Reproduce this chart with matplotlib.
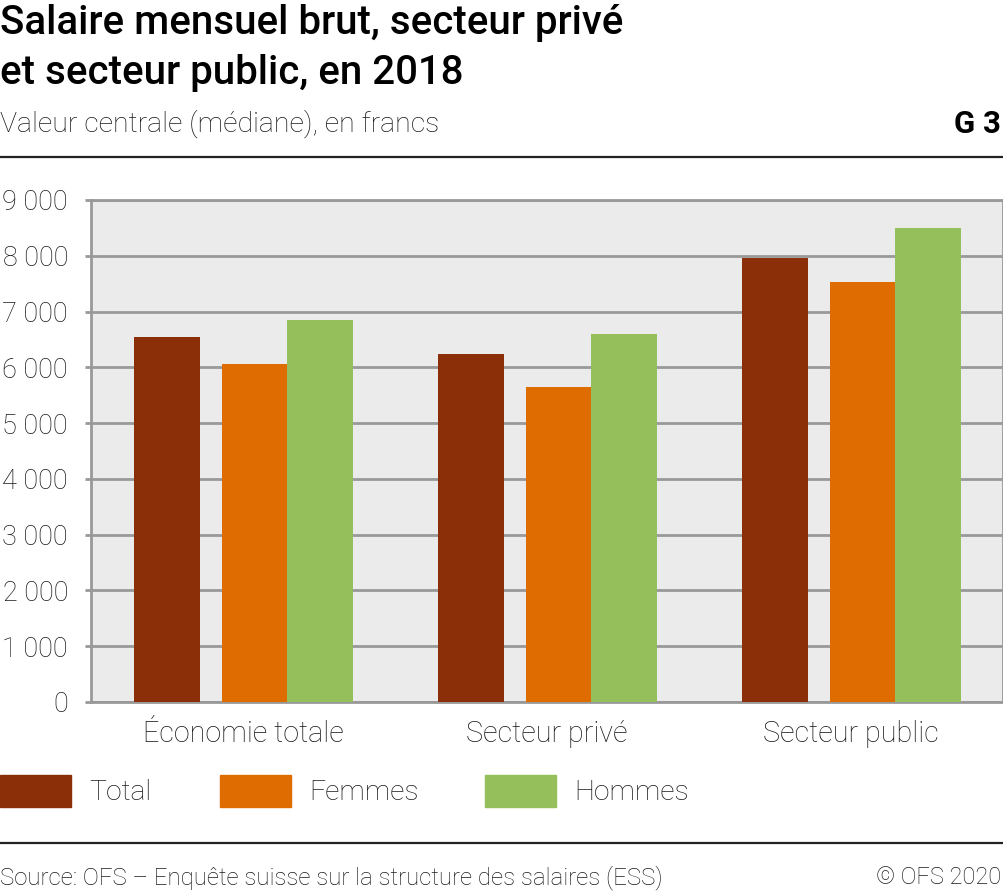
import matplotlib
matplotlib.use("Agg")
import matplotlib.pyplot as plt
from matplotlib.patches import Rectangle
from matplotlib.lines import Line2D
import numpy as np

categories = ["Économie totale", "Secteur privé", "Secteur public"]
series_names = ["Total", "Femmes", "Hommes"]
total = [6538, 6243, 7965]
femmes = [6067, 5648, 7535]
hommes = [6857, 6597, 8503]
yticks = [0, 1000, 2000, 3000, 4000, 5000, 6000, 7000, 8000, 9000]
ytick_labels = ["0", "1 000", "2 000", "3 000", "4 000", "5 000", "6 000", "7 000", "8 000", "9 000"]

colors = ["#8a2f07", "#de6c00", "#95bf5a"]
W, H = 1004, 891
fig = plt.figure(figsize=(W / 100, H / 100), dpi=100)

def fx(px):
    return px / W

def fy(py):
    return 1 - py / H

TXT = "#1a1a1a"
ax = fig.add_axes([fx(91), fy(702), fx(1003) - fx(91), fy(200) - fy(702)])
ax.set_facecolor("#ebebeb")
x = np.arange(len(categories))
offsets = [-0.357, -0.069, 0.146]
width = 0.215
for vals, off, col in zip([total, femmes, hommes], offsets, colors):
    ax.bar(x + off, vals, width=width, align="edge", color=col, zorder=3, linewidth=0)

ax.set_xlim(-0.5, 2.5)
ax.set_ylim(0, 9000)
ax.set_yticks(yticks)
ax.set_yticklabels(ytick_labels, fontfamily="Roboto", fontweight="light", fontsize=19.5, color=TXT)
ax.set_xticks(x)
ax.set_xticklabels(categories, fontfamily="Roboto", fontweight="light", fontsize=20.7, color=TXT)
ax.tick_params(axis="x", length=0, pad=13)
ax.tick_params(axis="y", length=4, width=2, color="#999999", pad=12.5)
ax.yaxis.grid(True, color="#999999", linewidth=2, zorder=1)
ax.set_axisbelow(True)
for s in ["left", "top", "right", "bottom"]:
    ax.spines[s].set_color("#999999")
    ax.spines[s].set_linewidth(2)

# Titles
fig.text(fx(0), fy(34), "Salaire mensuel brut, secteur privé", fontfamily="Roboto", fontweight="medium",
         fontsize=29, va="baseline", ha="left", color="black")
fig.text(fx(0), fy(84), "et secteur public, en 2018", fontfamily="Roboto", fontweight="medium",
         fontsize=29, va="baseline", ha="left", color="black")
fig.text(fx(0), fy(132), "Valeur centrale (médiane), en francs", fontfamily="Roboto", fontweight="light",
         fontsize=20.5, va="baseline", ha="left", color=TXT)
fig.text(fx(1001), fy(133), "G 3", fontfamily="Roboto", fontweight="bold",
         fontsize=22.5, va="baseline", ha="right", color="black")

# Rules
fig.add_artist(Line2D([fx(0), fx(1003)], [fy(157), fy(157)], color="#222222", linewidth=1.6))
fig.add_artist(Line2D([fx(0), fx(1003)], [fy(843), fy(843)], color="#222222", linewidth=1.6))

# Legend
leg_x = [0, 220, 485]
for name, col, lx in zip(series_names, colors, leg_x):
    fig.add_artist(Rectangle((fx(lx), fy(807)), fx(71), fy(775) - fy(807), color=col, transform=fig.transFigure))
    fig.text(fx(lx + 89), fy(792), name, fontfamily="Roboto", fontweight="light", fontsize=20.3,
             va="center", ha="left", color=TXT)

# Footer
fig.text(fx(0), fy(884), "Source: OFS – Enquête suisse sur la structure des salaires (ESS)", fontfamily="Roboto",
         fontweight="light", fontsize=17.3, va="baseline", ha="left", color=TXT)
fig.text(fx(1001), fy(884), "© OFS 2020", fontfamily="Roboto",
         fontweight="light", fontsize=17, va="baseline", ha="right", color=TXT)

fig.savefig("out.png", dpi=100)
